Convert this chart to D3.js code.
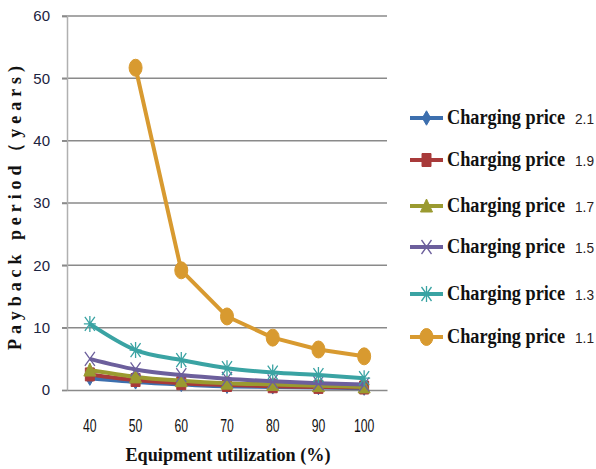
<!DOCTYPE html>
<html><head><meta charset="utf-8">
<script src="https://cdn.jsdelivr.net/npm/d3@7"></script>
<style>body{margin:0;background:#fff}svg{display:block}
.serif{font-family:"Liberation Serif","Times New Roman","DejaVu Serif",serif;font-weight:bold}
</style>
</head><body>
<svg id="c" width="596" height="469"></svg>
<script>
const categories = ["40","50","60","70","80","90","100"];
const yTicks = [0,10,20,30,40,50,60];
const seriesNames = ["2.1","1.9","1.7","1.5","1.3","1.1"];
const price21 = [1.9,1.3,0.9,0.6,0.5,0.4,0.3];
const price19 = [2.5,1.6,1.1,0.8,0.6,0.5,0.4];
const price17 = [3.2,2.1,1.5,1.1,0.9,0.7,0.5];
const price15 = [5.0,3.3,2.4,1.8,1.4,1.1,0.9];
const price13 = [10.6,6.4,4.8,3.5,2.8,2.4,1.9];
const price11 = [null,51.7,19.2,11.8,8.4,6.5,5.4];
const seriesColors = ["#3d6fae","#a83a3a","#9a9a30","#6c5f9c","#3aa3a3","#d89a30"];
const seriesMarkers = ["diamond","square","triangle","x","star","circle"];

const series = [price21,price19,price17,price15,price13,price11].map((v,i)=>({
  name: seriesNames[i], values: v, color: seriesColors[i], marker: seriesMarkers[i]
}));

const svg = d3.select("#c");
const pLeft = 67, pRight = 387, pTop = 16, pBottom = 390;
const x = d3.scaleBand().domain(categories).range([pLeft, pRight]);
const y = d3.scaleLinear().domain([0,60]).range([pBottom, pTop]);

// gridlines
svg.append("g").selectAll("line").data(yTicks.filter(d=>d>0)).join("line")
  .attr("x1", pLeft-5).attr("x2", pRight).attr("y1", d=>y(d)).attr("y2", d=>y(d))
  .attr("stroke", "#8a8a8a").attr("stroke-width", 1.5);

// y axis
const yAx = svg.append("g").attr("transform", `translate(${pLeft},0)`)
  .call(d3.axisLeft(y).tickValues(yTicks).tickSize(5).tickPadding(12));
yAx.select(".domain").attr("stroke", "#b0b0b0").attr("stroke-width", 1.5);
yAx.selectAll(".tick line").attr("stroke", "#8a8a8a").attr("stroke-width", 1.5);
yAx.selectAll("text").style("font-family", "'Liberation Sans', Arial, sans-serif")
  .attr("font-size", 15).attr("fill", "#1c2340");

// x axis
const xAx = svg.append("g").attr("transform", `translate(0,${pBottom})`)
  .call(d3.axisBottom(x).tickSize(0).tickPadding(29));
xAx.select(".domain").attr("stroke", "#8a8a8a").attr("stroke-width", 1.5);
xAx.selectAll("text").style("font-family", "'Liberation Sans', Arial, sans-serif")
  .attr("font-size", 19).attr("fill", "#111")
  .attr("textLength", d => d.length * 6.8).attr("lengthAdjust","spacingAndGlyphs");

const cx = d => x(d) + x.bandwidth()/2;

function markerPath(type) {
  switch(type) {
    case "diamond": return d3.symbol(d3.symbolDiamond, 60)();
    case "square": return "M-4.5,-6.5H4.5V6.5H-4.5Z";
    case "triangle": return "M0,-7L6,6H-6Z";
    case "x": return "M-5,-7L5,7M5,-7L-5,7";
    case "star": return "M-5,-7L5,7M5,-7L-5,7M0,-8V8M-6,0H6";
    case "circle": return "M-6.5,0A6.5,8.5 0 1,0 6.5,0A6.5,8.5 0 1,0 -6.5,0Z";
  }
}
const strokeOnly = t => t==="x"||t==="star";

// lines
series.forEach(s => {
  const pts = categories.map((c,i)=>({c, v:s.values[i]})).filter(p=>p.v!=null);
  const line = d3.line().x(p=>cx(p.c)).y(p=>y(p.v))
    .curve(s.name==="1.1" ? d3.curveLinear : d3.curveMonotoneX);
  svg.append("path").datum(pts).attr("d", line).attr("fill","none")
    .attr("stroke", s.color).attr("stroke-width", 4).attr("stroke-linejoin","round");
  svg.append("g").selectAll("path").data(pts).join("path")
    .attr("transform", p=>`translate(${cx(p.c)},${y(p.v)})`)
    .attr("d", markerPath(s.marker))
    .attr("fill", strokeOnly(s.marker) ? "none" : s.color)
    .attr("stroke", s.color).attr("stroke-width", strokeOnly(s.marker)?1.3:1);
});

// axis titles
svg.append("text").attr("class","serif").attr("x", 228).attr("y", 461).attr("text-anchor","middle")
  .attr("font-size", 19).attr("fill","#111")
  .attr("textLength", 205).attr("lengthAdjust","spacingAndGlyphs")
  .text("Equipment utilization (%)");
svg.append("text").attr("class","serif").attr("transform","translate(21,208) rotate(-90)").attr("text-anchor","middle")
  .attr("font-size", 18).attr("fill","#111")
  .attr("textLength", 284).attr("lengthAdjust","spacing")
  .text("Payback period（years)");

// legend
const legendY = [118,160,206,247,294,337];
const lg = svg.append("g");
series.forEach((s,i) => {
  const g = lg.append("g").attr("transform", `translate(0,${legendY[i]})`);
  g.append("line").attr("x1",410).attr("x2",443).attr("stroke",s.color).attr("stroke-width",4);
  g.append("path").attr("transform","translate(426.5,0)").attr("d", markerPath(s.marker))
    .attr("fill", strokeOnly(s.marker) ? "none" : s.color)
    .attr("stroke", s.color).attr("stroke-width", strokeOnly(s.marker)?1.3:1);
  g.append("text").attr("class","serif").attr("x",447).attr("y",6)
    .attr("font-size", 20).attr("fill","#111")
    .attr("textLength", 118).attr("lengthAdjust","spacingAndGlyphs")
    .text("Charging price");
  g.append("text").attr("x",575).attr("y",6)
    .style("font-family","'Liberation Sans', Arial, sans-serif")
    .attr("font-size", 15).attr("fill","#2a1c1c")
    .attr("textLength", 19).attr("lengthAdjust","spacingAndGlyphs")
    .text(s.name);
});
</script>
</body></html>
